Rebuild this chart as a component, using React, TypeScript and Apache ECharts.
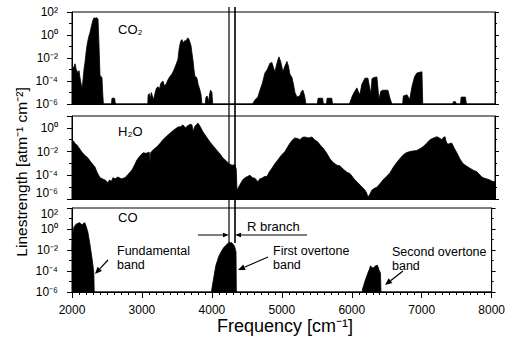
import React, { useEffect, useRef } from 'react';
import * as echarts from 'echarts';

// Frequency axis (cm^-1)
const freqMin = 2000;
const freqMax = 8000;
const freqStep = 1000;

// Linestrength values given as log10 exponents, [frequency, log10(S)]
const co2Spectrum: [number, number][] = [
  [2000, -2.6], [2020, -2.9], [2043, -2.5], [2060, -3.0], [2085, -3.3], [2100, -3.1], [2113, -3.7],
  [2128, -4.2], [2142, -4.6], [2150, -4.3], [2156, -3.9], [2170, -3.0], [2184, -2.4], [2200, -1.5],
  [2213, -0.9], [2235, -0.2], [2255, 0.2], [2280, 0.9], [2298, 1.3], [2312, 1.5], [2330, 1.45],
  [2350, 1.5], [2369, 1.4], [2383, -0.9], [2397, -3.5], [2410, -3.6], [2425, -3.7], [2435, -5.0],
  [2445, -6], [2560, -6], [2567, -5.5], [2605, -5.5], [2615, -6],
  [3075, -6], [3080, -5.2], [3100, -5.1], [3110, -5.6], [3125, -5.0], [3140, -5.3], [3160, -5.6],
  [3180, -5.0], [3200, -4.6], [3220, -4.5], [3240, -4.7], [3260, -4.2], [3290, -4.0], [3310, -4.4],
  [3333, -4.3], [3361, -3.9], [3390, -3.6], [3418, -3.4], [3440, -3.1], [3461, -2.8], [3480, -2.5],
  [3503, -2.1], [3520, -1.2], [3532, -0.8], [3545, -0.5], [3560, -0.4], [3575, -0.7], [3590, -0.55],
  [3602, -0.5], [3620, -0.5], [3635, -0.3], [3645, -0.25], [3660, -0.4], [3687, -0.9], [3700, -1.5],
  [3716, -2.2], [3730, -3.0], [3744, -3.6], [3770, -3.7], [3790, -4.3], [3815, -4.8], [3830, -5.2],
  [3843, -6], [3890, -6], [3900, -5.4], [3915, -5.3], [3929, -5.5], [3940, -6], [3950, -5.2],
  [3965, -4.8], [3985, -5.0], [3995, -6],
  [4560, -6], [4600, -5.6], [4637, -5.4], [4666, -4.8], [4700, -4.2], [4737, -3.3], [4770, -3.0],
  [4808, -2.45], [4836, -2.4], [4860, -2.9], [4879, -3.2], [4905, -2.5], [4935, -1.9], [4960, -2.3],
  [4992, -3.2], [5020, -2.7], [5049, -2.3], [5070, -2.7], [5090, -3.4], [5120, -3.7], [5145, -4.4],
  [5162, -5.0], [5191, -5.4], [5230, -5.3], [5255, -4.9], [5276, -4.8], [5300, -5.3], [5318, -6],
  [5480, -6], [5490, -5.5], [5555, -5.5], [5565, -6], [5610, -6], [5618, -5.5], [5685, -5.5], [5695, -6],
  [5935, -6], [5970, -5.4], [6000, -5.0], [6041, -4.6], [6060, -4.9], [6084, -5.2], [6110, -4.3],
  [6155, -3.75], [6197, -3.75], [6220, -4.5], [6240, -5.1], [6255, -3.8], [6280, -3.7], [6325, -3.65],
  [6345, -5.0], [6353, -5.6], [6380, -4.9], [6410, -4.8], [6481, -4.8], [6510, -5.5], [6538, -6],
  [6690, -6], [6700, -5.3], [6751, -5.2], [6790, -5.6], [6822, -4.5], [6860, -3.6], [6893, -3.3],
  [6964, -3.2], [6975, -6],
  [7400, -6], [7410, -5.8], [7440, -5.8], [7450, -6], [7510, -6], [7520, -5.4], [7580, -5.4],
  [7595, -6], [8000, -6],
];

const h2oSpectrum: [number, number][] = [
  [2000, -1.0], [2020, -1.1], [2040, -1.3], [2071, -1.45], [2100, -1.7], [2142, -2.05], [2180, -2.3],
  [2227, -2.55], [2270, -2.9], [2326, -3.3], [2360, -3.8], [2397, -4.2], [2430, -4.3], [2468, -4.4],
  [2490, -4.5], [2510, -4.65], [2530, -4.4], [2560, -4.5], [2581, -4.2], [2610, -4.3], [2652, -4.15],
  [2700, -4.3], [2752, -4.2], [2800, -3.9], [2851, -3.55], [2890, -3.1], [2922, -2.7], [2960, -2.4],
  [3007, -2.1], [3050, -2.15], [3095, -2.05], [3106, -2.9], [3115, -2.1], [3160, -1.8], [3205, -1.6],
  [3250, -1.3], [3290, -1.0], [3340, -0.7], [3390, -0.45], [3440, -0.2], [3503, 0.07], [3540, 0.1],
  [3574, 0.25], [3610, 0.0], [3645, 0.2], [3680, 0.3], [3702, 0.25], [3716, -0.3], [3740, 0.1],
  [3787, 0.4], [3820, 0.1], [3858, -0.35], [3900, -0.7], [3957, -1.2], [4000, -1.5], [4056, -1.9],
  [4100, -2.2], [4141, -2.55], [4190, -2.8], [4240, -3.1], [4280, -3.15], [4311, -3.1], [4330, -3.5],
  [4340, -5.25], [4382, -4.8], [4420, -4.4], [4453, -4.2], [4490, -4.1], [4524, -4.0], [4560, -4.2],
  [4595, -4.25], [4637, -4.55], [4665, -4.3], [4694, -4.25], [4730, -4.1], [4765, -4.1], [4800, -3.7],
  [4836, -3.4], [4880, -3.0], [4921, -2.7], [4970, -2.3], [5020, -2.0], [5060, -1.6], [5091, -1.3],
  [5130, -1.0], [5162, -0.85], [5200, -0.9], [5233, -1.0], [5270, -0.8], [5304, -0.77], [5350, -0.85],
  [5403, -0.77], [5440, -1.0], [5488, -1.2], [5520, -1.45], [5559, -1.7], [5610, -2.1], [5658, -2.6],
  [5700, -2.9], [5758, -3.15], [5800, -3.2], [5850, -3.5], [5900, -3.75], [5942, -3.85], [6000, -4.3],
  [6056, -4.65], [6100, -4.9], [6155, -5.25], [6180, -5.5], [6197, -5.85], [6225, -5.6], [6254, -5.25],
  [6290, -5.1], [6325, -5.0], [6370, -4.7], [6410, -4.4], [6460, -4.1], [6509, -3.8], [6560, -3.3],
  [6609, -2.9], [6650, -2.6], [6694, -2.3], [6740, -2.1], [6793, -2.0], [6840, -1.95], [6893, -1.9],
  [6940, -1.75], [6978, -1.6], [7030, -1.3], [7077, -1.0], [7130, -0.85], [7176, -0.75], [7210, -0.85],
  [7247, -1.0], [7270, -0.8], [7290, -0.75], [7310, -1.2], [7332, -1.4], [7360, -1.3], [7389, -1.3],
  [7420, -1.7], [7459, -2.1], [7500, -2.6], [7544, -3.0], [7590, -3.2], [7644, -3.4], [7700, -3.6],
  [7743, -3.7], [7790, -4.0], [7828, -4.2], [7880, -4.3], [7927, -4.4], [7960, -4.5], [8000, -4.55],
];

const coSpectrum: [number, number][] = [
  [2000, -2.0], [2010, -0.6], [2028, 0.2], [2057, 0.45], [2085, 0.55], [2113, 0.6], [2142, 0.38],
  [2165, 0.55], [2184, 0.6], [2200, 0.3], [2227, -0.3], [2255, -1.4], [2284, -2.7], [2300, -3.5],
  [2312, -4.2], [2318, -6],
  [3995, -6], [4000, -5.7], [4030, -4.5], [4056, -3.5], [4080, -3.0], [4099, -2.6], [4130, -2.2],
  [4170, -1.75], [4210, -1.5], [4240, -1.3], [4283, -1.3], [4310, -1.5], [4326, -1.7], [4345, -2.2],
  [4350, -6],
  [6150, -6], [6155, -5.7], [6197, -4.8], [6230, -4.2], [6254, -3.8], [6268, -3.5], [6290, -3.7],
  [6311, -3.7], [6340, -3.5], [6367, -3.45], [6390, -3.9], [6410, -4.2], [6418, -6], [8000, -6],
];

const panelNames = ['CO₂', 'H₂O', 'CO'];
const panelSpectra = [co2Spectrum, h2oSpectrum, coSpectrum];
const panelYMax = [2, 1, 2];
const panelYMin = -6;
const rBranchEdges = [4227, 4312];

const SUP: Record<string, string> = {
  '-': '⁻', '0': '⁰', '1': '¹', '2': '²', '3': '³', '4': '⁴', '5': '⁵', '6': '⁶', '7': '⁷', '8': '⁸', '9': '⁹',
};
const powLabel = (v: number) => {
  const n = Math.round(v);
  if (n % 2 !== 0) return '';
  return '10' + String(n).split('').map((c) => SUP[c] || c).join('');
};

const FONT = "'Liberation Sans', Arial, Helvetica, sans-serif";
const GRIDS = [
  { top: 12, height: 92 },
  { top: 116, height: 83 },
  { top: 208, height: 84 },
];

function arrow(x1: number, y1: number, x2: number, y2: number, head = 6, half = 2.5, w = 1) {
  const dx = x2 - x1;
  const dy = y2 - y1;
  const len = Math.sqrt(dx * dx + dy * dy);
  const ux = dx / len;
  const uy = dy / len;
  const bx = x2 - ux * head;
  const by = y2 - uy * head;
  const px = -uy * half;
  const py = ux * half;
  return [
    { type: 'line', shape: { x1, y1, x2: bx, y2: by }, style: { stroke: '#000', lineWidth: w }, silent: true },
    {
      type: 'polygon',
      shape: { points: [[x2, y2], [bx + px, by + py], [bx - px, by - py]] },
      style: { fill: '#000' },
      silent: true,
    },
  ];
}

function txt(text: string, x: number, y: number, size = 13, va = 'middle') {
  return {
    type: 'text',
    x,
    y,
    silent: true,
    style: { text, fill: '#000', fontFamily: FONT, fontSize: size, lineHeight: 14, align: 'left', verticalAlign: va },
  };
}

export default function App() {
  const ref = useRef<HTMLDivElement>(null);
  useEffect(() => {
    if (!ref.current) return;
    const chart = echarts.init(ref.current, undefined, { renderer: 'svg' });
    const option: any = {
      animation: false,
      backgroundColor: '#fff',
      grid: GRIDS.map((g) => ({
        left: 72, right: 13, top: g.top, height: g.height,
        show: true, borderColor: '#000', borderWidth: 1, backgroundColor: 'transparent',
      })),
      xAxis: GRIDS.map((_, i) => ({
        type: 'value', gridIndex: i, min: freqMin, max: freqMax, interval: freqStep, position: 'bottom',
        axisLine: { show: true, onZero: false, lineStyle: { color: '#000', width: 1 } },
        axisTick: { show: i === 2, inside: false, length: 6, lineStyle: { color: '#000', width: 1 } },
        minorTick: { show: i === 2, splitNumber: 10, length: 3, lineStyle: { color: '#000', width: 1 } },
        splitLine: { show: false },
        minorSplitLine: { show: false },
        axisLabel: {
          show: i === 2, color: '#000', fontFamily: FONT, fontSize: 12, margin: 12,
          formatter: (v: number) => String(v),
        },
      })),
      yAxis: [
        ...GRIDS.map((_, i) => ({
          type: 'value', gridIndex: i, position: 'left', min: panelYMin, max: panelYMax[i], interval: 2,
          axisLine: { show: true, onZero: false, lineStyle: { color: '#000', width: 1 } },
          axisTick: { show: true, inside: false, length: 5, lineStyle: { color: '#000' } },
          minorTick: { show: true, splitNumber: 2, length: 3, lineStyle: { color: '#000' } },
          splitLine: { show: false },
          minorSplitLine: { show: false },
          axisLabel: {
            show: true, color: '#000', fontFamily: FONT, fontSize: 12, margin: 14, formatter: powLabel,
            verticalAlignMinLabel: i === 1 ? 'bottom' : 'middle',
            verticalAlignMaxLabel: i === 2 ? 'top' : 'middle',
          },
        })),
        ...GRIDS.map((_, i) => ({
          type: 'value', gridIndex: i, position: 'right', min: panelYMin, max: panelYMax[i], interval: 2,
          axisLine: { show: true, onZero: false, lineStyle: { color: '#000', width: 1 } },
          axisTick: { show: true, inside: false, length: 4, lineStyle: { color: '#000' } },
          minorTick: { show: true, splitNumber: 2, length: 2, lineStyle: { color: '#000' } },
          splitLine: { show: false },
          minorSplitLine: { show: false },
          axisLabel: { show: false },
        })),
      ],
      series: panelSpectra.map((data, i) => ({
        type: 'line',
        name: panelNames[i],
        xAxisIndex: i,
        yAxisIndex: i,
        data,
        symbol: 'none',
        showSymbol: false,
        silent: true,
        lineStyle: { color: '#000', width: 0.8 },
        areaStyle: { color: '#000', opacity: 1, origin: 'start' },
      })),
    };
    chart.setOption(option);

    const xa = chart.convertToPixel({ xAxisIndex: 0 }, rBranchEdges[0]) as number;
    const xb = chart.convertToPixel({ xAxisIndex: 0 }, rBranchEdges[1]) as number;
    const graphic: any[] = [
      txt(panelNames[0], 118, 29),
      txt(panelNames[1], 118, 131),
      txt(panelNames[2], 118, 217),
      txt('Fundamental\nband', 117, 244, 12.5, 'top'),
      txt('First overtone\nband', 273, 244, 12.5, 'top'),
      txt('Second overtone\nband', 392, 245, 12.5, 'top'),
      txt('R branch', 247, 226),
      ...arrow(108, 260, 95, 274, 7, 3, 1.2),
      ...arrow(268, 257, 238, 270, 7, 3, 1.2),
      ...arrow(403, 271, 385, 285, 7, 3, 1.2),
      ...arrow(198, 235, xa, 235, 6, 2.2, 1),
      ...arrow(307, 235, xb, 235, 6, 2.2, 1),
      { type: 'line', silent: true, shape: { x1: xa, y1: 7, x2: xa, y2: 243 }, style: { stroke: '#000', lineWidth: 1.2 } },
      { type: 'line', silent: true, shape: { x1: xb, y1: 7, x2: xb, y2: 243 }, style: { stroke: '#000', lineWidth: 1.6 } },
      {
        type: 'text', x: 21, y: 172, rotation: Math.PI / 2, silent: true,
        style: { text: 'Linestrength [atm⁻¹ cm⁻²]', fill: '#000', fontFamily: FONT, fontSize: 15.5, align: 'center', verticalAlign: 'middle' },
      },
      {
        type: 'text', x: 285, y: 326, silent: true,
        style: { text: 'Frequency [cm⁻¹]', fill: '#000', fontFamily: FONT, fontSize: 18, align: 'center', verticalAlign: 'middle' },
      },
    ];
    chart.setOption({ graphic });
    return () => chart.dispose();
  }, []);
  return <div ref={ref} style={{ position: 'fixed', left: 0, top: 0, width: 508, height: 343, background: '#fff' }} />;
}
